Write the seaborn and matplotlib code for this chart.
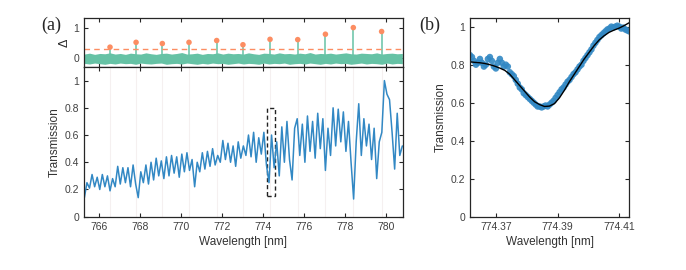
import numpy as np
import matplotlib
matplotlib.use('Agg')
import matplotlib.pyplot as plt
from matplotlib.patches import Rectangle
import seaborn as sns

# ---- panel (a) top: peak contrast (delta)
peak_wl = [766.55, 767.82, 769.10, 770.40, 771.75, 773.03, 774.35, 775.70, 777.05, 778.41, 779.79]
peak_delta = [0.35, 0.51, 0.47, 0.51, 0.57, 0.43, 0.61, 0.60, 0.78, 1.00, 0.87]
delta_threshold = 0.3

# noise band of the delta trace (upper / lower edge)
band_hi = [0.12, 0.15, 0.11, 0.14, 0.13, 0.16, 0.12, 0.14, 0.11, 0.15,
           0.13, 0.12, 0.16, 0.13, 0.11, 0.14, 0.15, 0.12, 0.14, 0.17,
           0.12, 0.13, 0.15, 0.11, 0.14, 0.13, 0.16, 0.12, 0.15, 0.13,
           0.14, 0.12, 0.16, 0.13, 0.11, 0.15, 0.14, 0.12, 0.16, 0.13,
           0.14, 0.12, 0.15, 0.13, 0.17, 0.12, 0.14, 0.13, 0.15, 0.12,
           0.14, 0.16, 0.13, 0.12, 0.15, 0.14, 0.13, 0.16, 0.12, 0.14,
           0.15, 0.13, 0.14]
band_lo = [-0.19, -0.21, -0.18, -0.20, -0.22, -0.19, -0.21, -0.18, -0.20, -0.19,
           -0.22, -0.18, -0.20, -0.21, -0.19, -0.18, -0.22, -0.20, -0.19, -0.21,
           -0.18, -0.20, -0.22, -0.19, -0.21, -0.18, -0.20, -0.19, -0.22, -0.20,
           -0.18, -0.21, -0.19, -0.20, -0.22, -0.18, -0.21, -0.19, -0.20, -0.18,
           -0.22, -0.20, -0.19, -0.21, -0.18, -0.20, -0.22, -0.19, -0.21, -0.18,
           -0.20, -0.19, -0.22, -0.20, -0.18, -0.21, -0.19, -0.20, -0.22, -0.18,
           -0.21, -0.19, -0.20]

# ---- panel (a) bottom: transmission spectrum, 765.3 - 780.8 nm
trans_a = [0.14, 0.25, 0.21, 0.31, 0.22, 0.29, 0.20, 0.31,
           0.22, 0.30, 0.19, 0.28, 0.22, 0.37, 0.24, 0.36,
           0.25, 0.36, 0.22, 0.38, 0.24, 0.14, 0.33, 0.25,
           0.38, 0.24, 0.40, 0.27, 0.43, 0.30, 0.41, 0.28,
           0.44, 0.30, 0.45, 0.32, 0.44, 0.29, 0.46, 0.33,
           0.47, 0.34, 0.42, 0.22, 0.40, 0.33, 0.47, 0.35,
           0.48, 0.37, 0.50, 0.38, 0.45, 0.40, 0.56, 0.42,
           0.54, 0.40, 0.52, 0.37, 0.55, 0.43, 0.52, 0.45,
           0.60, 0.44, 0.62, 0.40, 0.58, 0.46, 0.62, 0.38,
           0.25, 0.60, 0.36, 0.55, 0.30, 0.66, 0.40, 0.70,
           0.42, 0.27, 0.65, 0.72, 0.45, 0.68, 0.40, 0.74,
           0.48, 0.70, 0.43, 0.76, 0.50, 0.72, 0.34, 0.65,
           0.45, 0.80, 0.52, 0.79, 0.55, 0.77, 0.48, 0.70,
           0.40, 0.13, 0.55, 0.83, 0.45, 0.72, 0.52, 0.68,
           0.42, 0.65, 0.28, 0.55, 0.62, 1.00, 0.90, 0.86,
           0.62, 0.35, 0.76, 0.45, 0.52]
box_wl = (774.18, 774.57)
box_t = (0.15, 0.80)

# ---- panel (b): zoom on one resonance, 774.3616 - 774.4132 nm
trans_b = [0.85, 0.84, 0.82, 0.80, 0.81, 0.83, 0.81, 0.79, 0.80, 0.83,
           0.84, 0.82, 0.79, 0.78, 0.81, 0.83, 0.81, 0.79, 0.80, 0.79,
           0.76, 0.75, 0.74, 0.72, 0.70, 0.68, 0.67, 0.65, 0.64, 0.63,
           0.62, 0.61, 0.60, 0.59, 0.58, 0.58, 0.575, 0.58, 0.585, 0.58,
           0.59, 0.60, 0.61, 0.625, 0.64, 0.655, 0.67, 0.68, 0.695, 0.71,
           0.72, 0.735, 0.75, 0.76, 0.775, 0.79, 0.80, 0.82, 0.835, 0.85,
           0.865, 0.88, 0.90, 0.915, 0.93, 0.945, 0.955, 0.965, 0.975, 0.985,
           0.99, 1.00, 0.995, 1.00, 1.005, 1.00, 0.99, 0.995, 0.985, 0.98,
           0.975]
fit_b = [0.815, 0.812, 0.81, 0.806, 0.80, 0.792, 0.782, 0.77, 0.75, 0.72,
         0.69, 0.66, 0.63, 0.605, 0.59, 0.58, 0.582, 0.595, 0.625, 0.665,
         0.71, 0.75, 0.79, 0.83, 0.865, 0.90, 0.93, 0.952, 0.97, 0.982,
         0.992, 1.005, 1.02]

green = '#66c2a5'
orange = '#fc8d62'
blue = '#3288c4'

sns.set_style('ticks', {'xtick.direction': 'in', 'ytick.direction': 'in'})
plt.rcParams['font.family'] = ['Liberation Sans', 'DejaVu Sans']
plt.rcParams['axes.edgecolor'] = '#262626'
plt.rcParams['axes.linewidth'] = 0.9
plt.rcParams['xtick.color'] = '#262626'
plt.rcParams['ytick.color'] = '#262626'
plt.rcParams['xtick.labelcolor'] = '#404040'
plt.rcParams['ytick.labelcolor'] = '#404040'
plt.rcParams['xtick.major.size'] = 3
plt.rcParams['ytick.major.size'] = 3

fig = plt.figure(figsize=(6.86, 2.70), dpi=100)
ax_top = fig.add_axes([0.1224, 0.7519, 0.465, 0.1826])
ax_bot = fig.add_axes([0.1224, 0.1974, 0.465, 0.5545], sharex=ax_top)
ax_b = fig.add_axes([0.6851, 0.1974, 0.2322, 0.737])

band_wl = np.linspace(765.3, 780.8, len(band_hi))
wl_a = np.linspace(765.3, 780.8, len(trans_a))
wl_b = np.linspace(774.3616, 774.4132, len(trans_b))
fit_wl = np.linspace(774.3616, 774.4131, len(fit_b))

# --- top panel
ax_top.fill_between(band_wl, band_lo, band_hi, color=green, lw=0)
ax_top.vlines(peak_wl, 0, peak_delta, color=green, lw=1.1)
ax_top.axhline(delta_threshold, color=orange, ls=(0, (4, 3)), lw=1.0)
sns.scatterplot(x=peak_wl, y=peak_delta, color=orange, s=16, edgecolor='none', ax=ax_top, zorder=5)
ax_top.set_ylim(-0.31, 1.33)
ax_top.set_yticks([0, 1])
ax_top.set_ylabel('Δ', fontsize=9, labelpad=2)
ax_top.tick_params(labelbottom=False, top=True, right=True, labelsize=7.5)

# --- bottom panel
for w in peak_wl:
    ax_bot.axvline(w, color='#f5f0f0', lw=0.8, zorder=0)
sns.lineplot(x=wl_a, y=trans_a, color=blue, lw=1.1, ax=ax_bot)
ax_bot.add_patch(Rectangle((box_wl[0], box_t[0]), box_wl[1] - box_wl[0], box_t[1] - box_t[0],
                           fill=False, ec='#222222', ls=(0, (3, 2)), lw=1.0))
ax_bot.set_xlim(765.28, 780.83)
ax_bot.set_ylim(0, 1.1)
ax_bot.set_xticks(np.arange(766, 781, 2))
ax_bot.set_yticks([0, 0.2, 0.4, 0.6, 0.8, 1])
ax_bot.set_yticklabels(['0', '0.2', '0.4', '0.6', '0.8', '1'])
ax_bot.set_xlabel('Wavelength [nm]', fontsize=8.5, color='#333333', labelpad=3)
ax_bot.set_ylabel('Transmission', fontsize=8.5, color='#333333', labelpad=3)
ax_bot.tick_params(top=True, right=True, labelsize=7.5)

# --- panel (b)
sns.scatterplot(x=wl_b, y=trans_b, color=blue, s=22, edgecolor='none', alpha=0.9, ax=ax_b)
sns.lineplot(x=fit_wl, y=fit_b, color='black', lw=1.0, ax=ax_b)
ax_b.set_xlim(774.3616, 774.4132)
ax_b.set_ylim(0, 1.047)
ax_b.set_xticks([774.37, 774.39, 774.41])
ax_b.set_xticklabels(['774.37', '774.39', '774.41'])
ax_b.set_yticks([0, 0.2, 0.4, 0.6, 0.8, 1])
ax_b.set_yticklabels(['0', '0.2', '0.4', '0.6', '0.8', '1'])
ax_b.set_xlabel('Wavelength [nm]', fontsize=8.5, color='#333333', labelpad=3)
ax_b.set_ylabel('Transmission', fontsize=8.5, color='#333333', labelpad=3)
ax_b.tick_params(top=True, right=True, labelsize=7.5)

fig.text(0.074, 0.905, '(a)', fontsize=13, family='Liberation Serif', ha='center', va='center')
fig.text(0.627, 0.905, '(b)', fontsize=13, family='Liberation Serif', ha='center', va='center')

fig.savefig('out.png', dpi=100)
